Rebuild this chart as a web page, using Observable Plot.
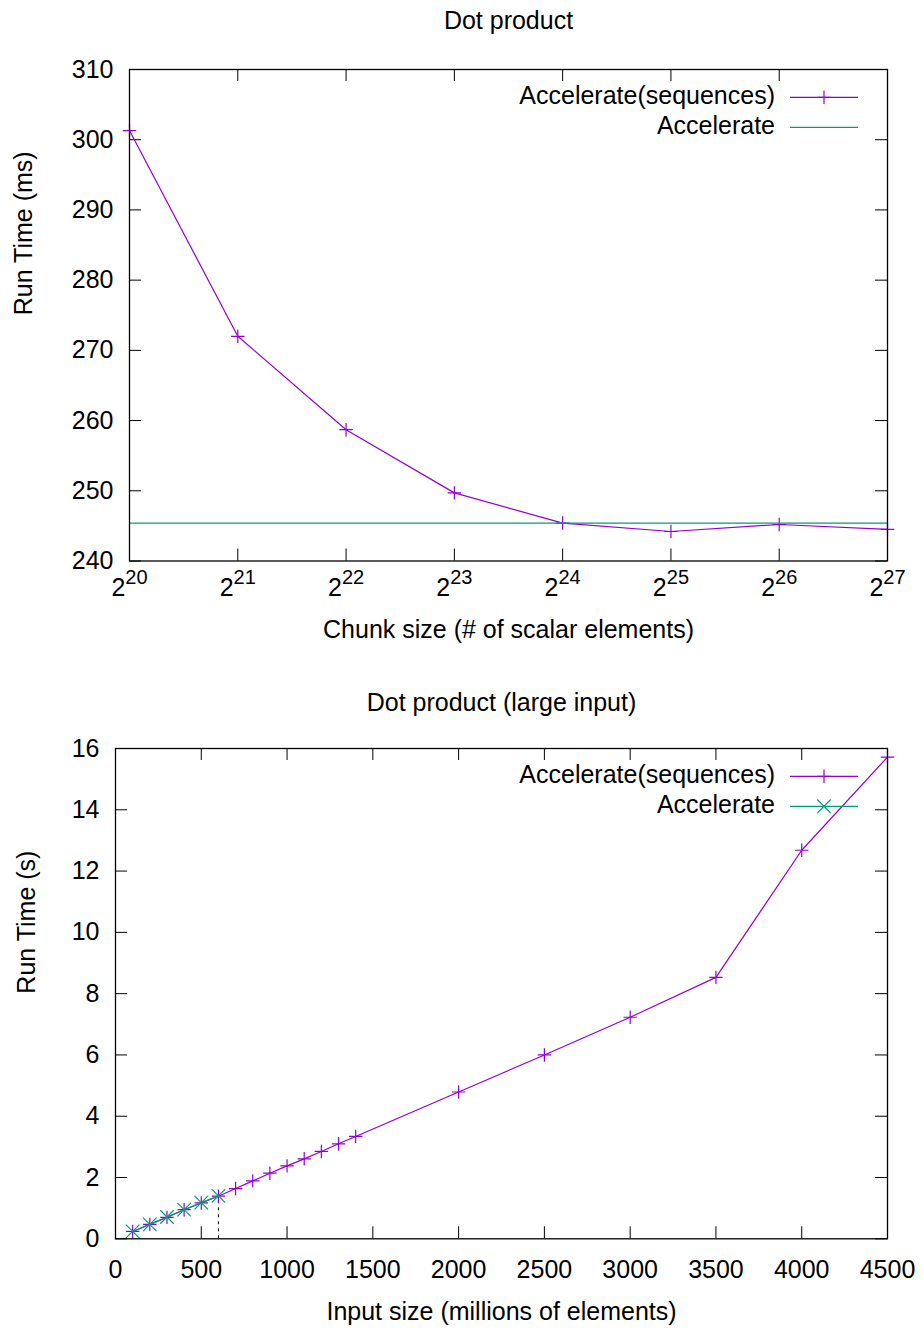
<!DOCTYPE html>
<html>
<head>
<meta charset="utf-8">
<script src="https://cdn.jsdelivr.net/npm/d3@7"></script>
<script src="https://cdn.jsdelivr.net/npm/@observablehq/plot@0.6"></script>
<style>
  html, body { margin: 0; padding: 0; background: white; }
  #chart svg { display: block; }
</style>
</head>
<body>
<div id="chart"></div>
<script>
// ---------- data ----------
const chunkExponents = [20, 21, 22, 23, 24, 25, 26, 27];          // chunk size = 2^exp
const seqRunTimeMs = [301.3, 272.0, 258.7, 249.7, 245.4, 244.2, 245.2, 244.5];
const accelRunTimeMs = 245.4;

const inputSizes = [100, 200, 300, 400, 500, 600, 700, 800, 900, 1000, 1100, 1200, 1300, 1400, 2000, 2500, 3000, 3500, 4000, 4500];
const seqRunTimeS = [0.24, 0.47, 0.70, 0.95, 1.17, 1.39, 1.64, 1.89, 2.14, 2.38, 2.61, 2.85, 3.10, 3.34, 4.79, 6.00, 7.23, 8.53, 12.68, 15.72];
const accelInputSizes = [100, 200, 300, 400, 500, 600];
const accelRunTimeS = [0.24, 0.47, 0.71, 0.95, 1.18, 1.40];
const cutoffSize = 600;
const cutoffTime = 1.39;

const topYTicks = [240, 250, 260, 270, 280, 290, 300, 310];
const topXTicks = chunkExponents;
const bottomXTicks = [0, 500, 1000, 1500, 2000, 2500, 3000, 3500, 4000, 4500];
const bottomYTicks = [0, 2, 4, 6, 8, 10, 12, 14, 16];

const seriesNames = ["Accelerate(sequences)", "Accelerate"];
const titles = ["Dot product", "Dot product (large input)"];
const xLabels = ["Chunk size (# of scalar elements)", "Input size (millions of elements)"];
const yLabels = ["Run Time (ms)", "Run Time (s)"];

// ---------- styling ----------
const purple = "#9400d3";
const green = "#009e73";
const FONT = "'Liberation Sans', Arial, Helvetica, sans-serif";
const FS = 25;
const TICK = 12;
const PLUS_R = 4.4;
const TIMES_R = 6.2;
const LW = 1.2;

const topData = chunkExponents.map((e, i) => ({e, t: seqRunTimeMs[i]}));
const bottomSeq = inputSizes.map((s, i) => ({s, t: seqRunTimeS[i]}));
const bottomAcc = accelInputSizes.map((s, i) => ({s, t: accelRunTimeS[i]}));

function tickMarks(xt, yt, fw, fh) {
  return [
    Plot.tickX(xt, {x: d => d, insetTop: fh - TICK, stroke: "black", strokeWidth: 1}),
    Plot.tickX(xt, {x: d => d, insetBottom: fh - TICK, stroke: "black", strokeWidth: 1}),
    Plot.tickY(yt, {y: d => d, insetRight: fw - TICK, stroke: "black", strokeWidth: 1}),
    Plot.tickY(yt, {y: d => d, insetLeft: fw - TICK, stroke: "black", strokeWidth: 1})
  ];
}

function addLegend(svg, right, frameTop, withTimes) {
  const g = d3.select(svg).append("g").attr("font-family", FONT).attr("font-size", FS);
  const rows = [
    {name: seriesNames[0], color: purple, sym: d3.symbolPlus, r: PLUS_R},
    {name: seriesNames[1], color: green, sym: withTimes ? d3.symbolTimes : null, r: TIMES_R}
  ];
  rows.forEach((row, i) => {
    const y = frameTop + 28.3 + i * 30;
    g.append("text").attr("x", right - 112).attr("y", y + 7).attr("text-anchor", "end")
      .attr("fill", "black").text(row.name);
    g.append("line").attr("x1", right - 97).attr("x2", right - 29).attr("y1", y).attr("y2", y)
      .attr("stroke", row.color).attr("stroke-width", LW);
    if (row.sym) {
      g.append("path").attr("d", d3.symbol(row.sym, Math.PI * row.r * row.r)())
        .attr("transform", `translate(${right - 63},${y})`)
        .attr("fill", "none").attr("stroke", row.color).attr("stroke-width", LW);
    }
  });
}

// ---------- top chart ----------
const W = 923, H = 665;
const mt = {l: 129, r: 36, t: 69, b: 104.5};
const tfw = W - mt.l - mt.r, tfh = H - mt.t - mt.b;

const topChart = Plot.plot({
  width: W, height: H,
  marginLeft: mt.l, marginRight: mt.r, marginTop: mt.t, marginBottom: mt.b,
  style: {fontFamily: FONT, fontSize: FS + "px", background: "white", color: "black", overflow: "visible"},
  x: {domain: [20, 27]},
  y: {domain: [240, 310]},
  marks: [
    ...tickMarks(topXTicks, topYTicks, tfw, tfh),
    Plot.axisX({ticks: topXTicks, tickSize: 0, tickPadding: 16.75, label: null, tickFormat: d => String(d), fontSize: FS}),
    Plot.axisY({ticks: topYTicks, tickSize: 0, tickPadding: 16, label: null, tickFormat: d => String(d), fontSize: FS}),
    Plot.line(topData, {x: "e", y: "t", stroke: purple, strokeWidth: LW}),
    Plot.dot(topData, {x: "e", y: "t", symbol: "plus", r: PLUS_R, stroke: purple, strokeWidth: LW}),
    Plot.ruleY([accelRunTimeMs], {stroke: green, strokeWidth: LW}),
    Plot.frame({stroke: "black", strokeWidth: 1.3}),
    Plot.text([titles[0]], {frameAnchor: "top", dy: -58, fontSize: FS, fill: "black"}),
    Plot.text([xLabels[0]], {frameAnchor: "bottom", dy: 76.5, fontSize: FS, fill: "black"}),
    Plot.text([yLabels[0]], {frameAnchor: "left", rotate: -90, dx: -106, fontSize: FS, fill: "black"})
  ]
});

// superscript tick labels 2^n
d3.select(topChart).selectAll('g[aria-label="x-axis tick label"] text').each(function() {
  const exp = this.textContent;
  const sel = d3.select(this);
  sel.text(null);
  sel.append("tspan").text("2");
  sel.append("tspan").attr("dy", "-0.6em").attr("font-size", "0.8em").text(exp);
});
addLegend(topChart, W - mt.r, mt.t, false);

// ---------- bottom chart ----------
const mb = {l: 115, r: 36, t: 83, b: 91.7};
const bfw = W - mb.l - mb.r, bfh = H - mb.t - mb.b;

const bottomChart = Plot.plot({
  width: W, height: H,
  marginLeft: mb.l, marginRight: mb.r, marginTop: mb.t, marginBottom: mb.b,
  style: {fontFamily: FONT, fontSize: FS + "px", background: "white", color: "black", overflow: "visible"},
  x: {domain: [0, 4500]},
  y: {domain: [0, 16]},
  marks: [
    ...tickMarks(bottomXTicks, bottomYTicks, bfw, bfh),
    Plot.axisX({ticks: bottomXTicks, tickSize: 0, tickPadding: 21, label: null, tickFormat: d => String(d), fontSize: FS}),
    Plot.axisY({ticks: bottomYTicks, tickSize: 0, tickPadding: 16, label: null, tickFormat: d => String(d), fontSize: FS}),
    Plot.ruleX([cutoffSize], {y1: 0, y2: cutoffTime, stroke: "black", strokeWidth: 1, strokeDasharray: "3,4"}),
    Plot.line(bottomSeq, {x: "s", y: "t", stroke: purple, strokeWidth: LW}),
    Plot.dot(bottomSeq, {x: "s", y: "t", symbol: "plus", r: PLUS_R, stroke: purple, strokeWidth: LW}),
    Plot.line(bottomAcc, {x: "s", y: "t", stroke: green, strokeWidth: LW}),
    Plot.dot(bottomAcc, {x: "s", y: "t", symbol: "times", r: TIMES_R, stroke: green, strokeWidth: LW}),
    Plot.frame({stroke: "black", strokeWidth: 1.3}),
    Plot.text([titles[1]], {frameAnchor: "top", dy: -55, fontSize: FS, fill: "black"}),
    Plot.text([xLabels[1]], {frameAnchor: "bottom", dy: 80.7, fontSize: FS, fill: "black"}),
    Plot.text([yLabels[1]], {frameAnchor: "left", rotate: -90, dx: -89, fontSize: FS, fill: "black"})
  ]
});
addLegend(bottomChart, W - mb.r, mb.t, true);

document.getElementById("chart").append(topChart, bottomChart);
</script>
</body>
</html>
